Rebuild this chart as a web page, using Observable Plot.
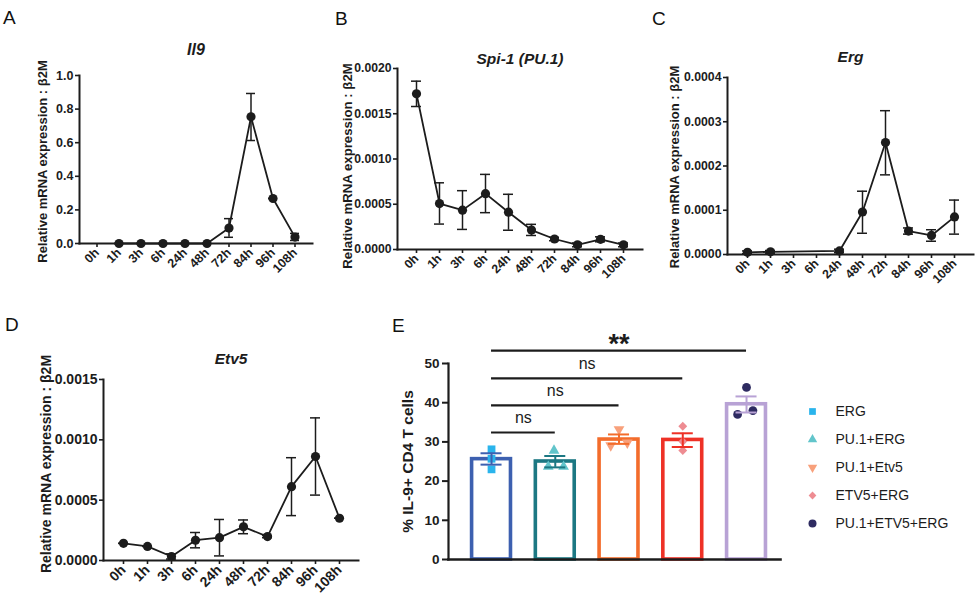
<!DOCTYPE html>
<html><head><meta charset="utf-8">
<script src="https://cdn.jsdelivr.net/npm/d3@7"></script>
<script src="https://cdn.jsdelivr.net/npm/@observablehq/plot@0.6"></script>
<style>
body{margin:0;background:#fff;}
#fig{position:relative;width:975px;height:602px;font-family:"Liberation Sans",Arial,sans-serif;overflow:hidden;background:#fff;}
.panel{position:absolute;}
.letter{position:absolute;font-size:19px;line-height:1;color:#111;}
</style></head><body><div id="fig"></div>
<script>
// ---------- data ----------
const times = ["0h","1h","3h","6h","24h","48h","72h","84h","96h","108h"];

const il9Mean = [null, 0, 0, 0, 0, 0, 0.092, 0.754, 0.268, 0.038];
const il9Lo   = [null, 0, 0, 0, 0, 0, 0.037, 0.613, 0.268, 0.018];
const il9Hi   = [null, 0, 0, 0, 0, 0, 0.148, 0.893, 0.268, 0.060];

const spi1Mean = [0.00172, 0.000508, 0.000435, 0.000617, 0.000412, 0.000215, 0.000116, 0.000052, 0.000112, 0.000052];
const spi1Lo   = [0.00158, 0.000281, 0.000222, 0.000407, 0.000213, 0.000155, 0.000097, 0.000030, 0.000085, 0.000030];
const spi1Hi   = [0.00186, 0.000737, 0.000650, 0.000830, 0.000610, 0.000278, 0.000135, 0.000072, 0.000140, 0.000072];

const ergMean = [0.000005, 0.000006, null, null, 0.000008, 0.000096, 0.000253, 0.000053, 0.000043, 0.000085];
const ergLo   = [0.000002, 0.000003, null, null, 0.000004, 0.000048, 0.000180, 0.000046, 0.000030, 0.000046];
const ergHi   = [0.000008, 0.000009, null, null, 0.000012, 0.000143, 0.000325, 0.000060, 0.000056, 0.000123];

const etv5Mean = [0.000142, 0.000117, 0.000033, 0.000168, 0.000189, 0.000279, 0.000198, 0.000612, 0.000862, 0.000350];
const etv5Lo   = [0.000142, 0.000117, 0.000012, 0.000105, 0.000038, 0.000222, 0.000189, 0.000372, 0.000542, 0.000350];
const etv5Hi   = [0.000142, 0.000117, 0.000055, 0.000232, 0.000340, 0.000336, 0.000207, 0.000852, 0.001182, 0.000350];

const groups = ["ERG","PU.1+ERG","PU.1+Etv5","ETV5+ERG","PU.1+ETV5+ERG"];
const meanPct = [25.6, 25.0, 30.6, 30.5, 39.6];
const semLo = [24.2, 23.5, 29.5, 28.7, 37.5];
const semHi = [27.1, 26.4, 31.9, 32.2, 41.6];
const replicates = [[28.1, 25.7, 23.0], [27.8, 23.7, 23.7], [33.2, 29.1, 29.8], [34.0, 30.1, 27.8], [43.9, 37.0, 38.0]];
const jitter = [[0, 0, 0], [-0.02, -0.11, 0.13], [0, -0.13, 0.13], [0, 0, 0], [0, -0.14, 0.10]];
const compareTo = ["PU.1+ERG", "PU.1+Etv5", "ETV5+ERG", "PU.1+ETV5+ERG"];
const compareY = [32.4, 39.3, 46.2, 53.3];
const compareLabel = ["ns", "ns", "ns", "**"];

const yLabelLine = "Relative mRNA expression : \u03B22M";
const yLabelBar = "% IL-9+ CD4 T cells";

// ---------- styles ----------
const FONT = '"Liberation Sans", Arial, sans-serif';
const INK = "#1c1c1c";
const barStroke = ["#3d60b0", "#1c7883", "#f36c2b", "#ee3126", "#b8a2d5"];
const pointFill = ["#2ab4ec", "#62c5cb", "#f8a07b", "#ee8c92", "#2e2b61"];
const triangleDown = {
  draw(context, size) {
    const s3 = Math.sqrt(3);
    const y = -Math.sqrt(size / (s3 * 3));
    context.moveTo(0, -y * 2);
    context.lineTo(-s3 * y, y);
    context.lineTo(s3 * y, y);
    context.closePath();
  }
};
const pointSymbol = [d3.symbolSquare, d3.symbolTriangle, triangleDown, d3.symbolDiamond2, d3.symbolCircle];
const pointR = [4.4, 4.0, 4.0, 4.0, 4.4];
const legendR = [3.8, 3.5, 3.5, 3.5, 4.0];

const fig = document.getElementById("fig");
function place(node, left, top) {
  const div = document.createElement("div");
  div.className = "panel";
  div.style.left = left + "px";
  div.style.top = top + "px";
  div.appendChild(node);
  fig.appendChild(div);
}
function letter(txt, left, top) {
  const d = document.createElement("div");
  d.className = "letter";
  d.textContent = txt;
  d.style.left = left + "px";
  d.style.top = top + "px";
  fig.appendChild(d);
}

function linePanel(c) {
  const data = times.map((t, i) => ({t, m: c.mean[i], lo: c.lo[i], hi: c.hi[i]}));
  const ok = d => d.m != null;
  return Plot.plot({
    width: c.width, height: c.height,
    marginLeft: c.mL, marginRight: c.mR, marginTop: c.mT, marginBottom: c.mB,
    style: {fontFamily: FONT, background: "transparent", color: INK, overflow: "visible"},
    x: {type: "band", domain: times, paddingInner: 0.5, paddingOuter: 0.4},
    y: {domain: [0, c.yMax]},
    marks: [
      Plot.axisX({tickRotate: -45, tickSize: 4, tickPadding: 3, fontSize: c.tickFs, fontWeight: "bold", label: null, strokeWidth: 1.6}),
      Plot.axisY({ticks: c.yTicks, tickFormat: d3.format(c.fmt), tickSize: 4, tickPadding: 2, fontSize: c.tickFs, fontWeight: "bold", label: null, strokeWidth: 1.6}),
      Plot.frame({anchor: "left", strokeWidth: 2, stroke: INK}),
      Plot.frame({anchor: "bottom", strokeWidth: 2, stroke: INK}),
      Plot.ruleX(data, {filter: ok, x: "t", y1: "lo", y2: "hi", strokeWidth: 1.5, stroke: INK}),
      Plot.tickY(data, {filter: ok, x: "t", y: "lo", insetLeft: 1, insetRight: 1, strokeWidth: 1.5, stroke: INK}),
      Plot.tickY(data, {filter: ok, x: "t", y: "hi", insetLeft: 1, insetRight: 1, strokeWidth: 1.5, stroke: INK}),
      Plot.line(data, {filter: ok, x: "t", y: "m", strokeWidth: 1.8, stroke: INK}),
      Plot.dot(data, {filter: ok, x: "t", y: "m", r: 4.6, fill: INK}),
      Plot.text([c.title], {text: d => d, frameAnchor: "top", dy: c.titleDy, fontStyle: "italic", fontWeight: "bold", fontSize: c.titleFs}),
      Plot.text([yLabelLine], {text: d => d, frameAnchor: "left", textAnchor: "middle", lineAnchor: "middle", rotate: -90, dx: c.labelDx, dy: c.labelDy, fontWeight: "bold", fontSize: c.labelFs})
    ]
  });
}

// A
place(linePanel({width: 325, height: 290, mL: 79, mR: 13, mT: 75, mB: 47,
  mean: il9Mean, lo: il9Lo, hi: il9Hi, yMax: 1.0, yTicks: [0, 0.2, 0.4, 0.6, 0.8, 1.0], fmt: ".1f",
  title: "Il9", titleDy: -32, titleFs: 16, labelDx: -37, labelDy: 2, labelFs: 13, tickFs: 12.5}), 0, 0);
// B
place(linePanel({width: 325, height: 290, mL: 72, mR: 8, mT: 68, mB: 41,
  mean: spi1Mean, lo: spi1Lo, hi: spi1Hi, yMax: 0.002, yTicks: [0, 0.0005, 0.001, 0.0015, 0.002], fmt: ".4f",
  title: "Spi-1 (PU.1)", titleDy: -16, titleFs: 15.5, labelDx: -50, labelDy: 7, labelFs: 13.2, tickFs: 12.2}), 325, 0);
// C
place(linePanel({width: 325, height: 290, mL: 77, mR: 2, mT: 77, mB: 36,
  mean: ergMean, lo: ergLo, hi: ergHi, yMax: 0.0004, yTicks: [0, 0.0001, 0.0002, 0.0003, 0.0004], fmt: ".4f",
  title: "Erg", titleDy: -27, titleFs: 15.5, labelDx: -53, labelDy: 1, labelFs: 13, tickFs: 12.3}), 650, 0);
// D
place(linePanel({width: 380, height: 300, mL: 103, mR: 22, mT: 79, mB: 40,
  mean: etv5Mean, lo: etv5Lo, hi: etv5Hi, yMax: 0.0015, yTicks: [0, 0.0005, 0.001, 0.0015], fmt: ".4f",
  title: "Etv5", titleDy: -27, titleFs: 15.5, labelDx: -57, labelDy: -6, labelFs: 14, tickFs: 14}), 0, 300);

// E
const bars = groups.map((g, i) => ({g, i, m: meanPct[i], lo: semLo[i], hi: semHi[i]}));
const pts = groups.flatMap((g, i) => replicates[i].map((v, k) => ({g, i, v, x: i + jitter[i][k]})));
const cmp = compareTo.map((g, k) => ({to: groups.indexOf(g), y: compareY[k], label: compareLabel[k]}));
const HALF = 0.305, CAP = 0.165;
place(Plot.plot({
  width: 400, height: 300,
  marginLeft: 68, marginRight: 0, marginTop: 63, marginBottom: 41,
  style: {fontFamily: FONT, background: "transparent", color: INK, overflow: "visible"},
  x: {domain: [-0.675, 4.533], axis: null},
  y: {domain: [0, 50]},
  color: {type: "identity"},
  marks: [
    Plot.axisY({ticks: [0, 10, 20, 30, 40, 50], tickSize: 6, tickPadding: 3, fontSize: 13.5, fontWeight: "bold", label: null, strokeWidth: 2}),
    Plot.rectY(bars, {x1: d => d.i - HALF, x2: d => d.i + HALF, y: "m", fill: "white", stroke: d => barStroke[d.i], strokeWidth: 3.6}),
    Plot.frame({anchor: "left", strokeWidth: 2.2, stroke: INK}),
    Plot.frame({anchor: "bottom", strokeWidth: 2.6, stroke: INK}),
    ...groups.map((g, i) => Plot.dot(pts.filter(p => p.i === i), {x: "x", y: "v", symbol: pointSymbol[i], r: pointR[i], fill: pointFill[i]})),
    Plot.ruleX(bars, {x: "i", y1: "lo", y2: "hi", stroke: d => barStroke[d.i], strokeWidth: 2}),
    Plot.ruleY(bars, {y: "lo", x1: d => d.i - CAP, x2: d => d.i + CAP, stroke: d => barStroke[d.i], strokeWidth: 2}),
    Plot.ruleY(bars, {y: "hi", x1: d => d.i - CAP, x2: d => d.i + CAP, stroke: d => barStroke[d.i], strokeWidth: 2}),
    Plot.ruleY(cmp, {y: "y", x1: 0, x2: "to", strokeWidth: 2.2, stroke: INK}),
    Plot.text(cmp.filter(d => d.label === "ns"), {x: d => d.to / 2, y: "y", text: "label", dy: -15, fontSize: 16, fill: INK}),
    Plot.text(cmp.filter(d => d.label !== "ns"), {x: d => d.to / 2, y: "y", text: "label", dy: -6, fontSize: 27, fontWeight: "bold", fill: INK}),
    Plot.text([yLabelBar], {text: d => d, frameAnchor: "left", textAnchor: "middle", lineAnchor: "middle", rotate: -90, dx: -40, fontWeight: "bold", fontSize: 15.5})
  ]
}), 380, 300);

// Legend
place(Plot.plot({
  width: 185, height: 140, margin: 0,
  style: {fontFamily: FONT, background: "transparent", color: INK, overflow: "visible"},
  y: {type: "band", domain: groups, axis: null, padding: 0},
  marks: [
    ...groups.map((g, i) => Plot.dot([g], {y: d => d, frameAnchor: "left", dx: 22, symbol: pointSymbol[i], r: legendR[i], fill: pointFill[i]})),
    Plot.text(groups, {y: d => d, text: d => d, frameAnchor: "left", dx: 45, textAnchor: "start", fontSize: 14, fill: INK})
  ]
}), 790, 397);

letter("A", 3, 8);
letter("B", 335, 9);
letter("C", 652, 9);
letter("D", 5, 315);
letter("E", 392, 316);
</script>
</body></html>
